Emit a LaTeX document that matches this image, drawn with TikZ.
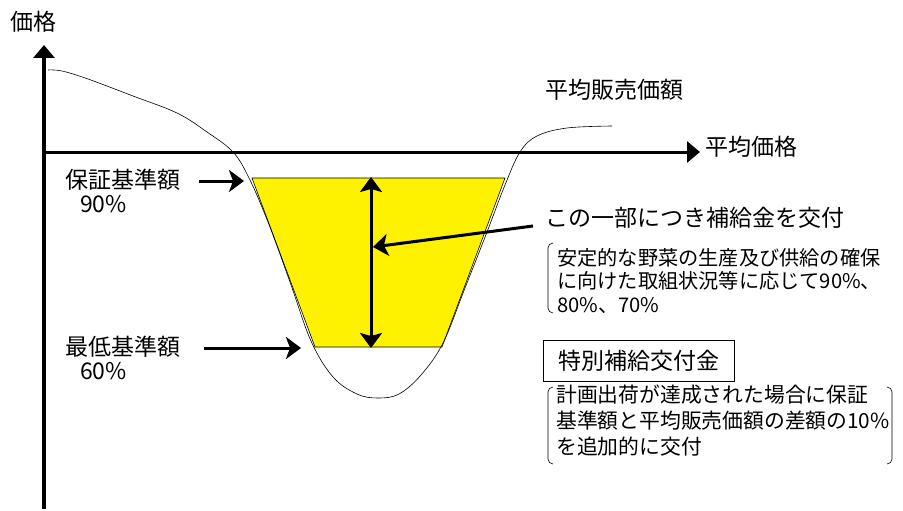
\documentclass[tikz,border=0pt]{standalone}
\usepackage{fontspec}
\setmainfont{Noto Sans CJK JP}
\usetikzlibrary{arrows.meta}
\begin{document}
\begin{tikzpicture}[x=1pt,y=-1pt,
  lbl/.style={font=\fontsize{23}{26}\selectfont, inner sep=0pt, anchor=west},
  note/.style={font=\fontsize{20.5}{24}\selectfont, inner sep=0pt, anchor=north west, align=left},
  thickarrow/.style={line width=3pt, -{Stealth[length=15pt,width=22pt,inset=4pt]}},
  axis/.style={line width=3.5pt, -{Triangle[length=13pt,width=21pt]}},
  brk/.style={line width=0.6pt, rounded corners=5pt}]
\useasboundingbox (0,0) rectangle (903,511);
% axes
\coordinate (origin) at (44,152);
\coordinate (ybot) at (44,509);
\coordinate (ytop) at (44,45);
\coordinate (xend) at (700,152);
\draw[axis] (ybot) -- (ytop);
\draw[axis, line width=3pt] (origin) -- (xend);
\node[lbl, anchor=center] (yl) at (33,22) {価格};
\node[lbl] (xl) at (705,147) {平均価格};
\node[lbl] (cl) at (545,90) {平均販売価額};
% yellow area
\draw[fill=yellow, line width=0.6pt] (252,178) -- (505,178) -- (442,347) -- (315,347) -- cycle;
% curve
\draw[line width=0.6pt] plot[smooth, tension=0.6] coordinates {(48,70) (62,71) (88,79) (133,96) (177,113) (207,132) (233,152) (249,178) (268,222) (290,282) (311,341) (333,377) (357,394) (378,398) (399,394) (421,375) (443,343) (465,288) (487,232) (505,185) (520,152) (537,136) (567,128) (612,126)};
% double arrow
\coordinate (dtop) at (371,177);
\coordinate (dbot) at (371,348);
\draw[line width=3pt, {Stealth[length=15pt,width=22pt,inset=3pt]}-{Stealth[length=15pt,width=22pt,inset=3pt]}] (dtop) -- (dbot);
% labels left
\node[lbl] (hl) at (65,180) {保証基準額};
\node[lbl] (hp) at (80,204) {90\%};
\node[lbl] (ml) at (65,347) {最低基準額};
\node[lbl] (mp) at (80,371) {60\%};
\coordinate (ha) at (244,181);
\coordinate (ma) at (301,348);
\draw[thickarrow] (hl.east) ++(19,1) coordinate (hs) (hs) -- (ha);
\draw[thickarrow] (ml.east) ++(24,1) coordinate (ms) (ms) -- (ma);
% pointer
\node[lbl] (pl) at (545,218) {この一部につき補給金を交付};
\coordinate (pe) at (373,247);
\draw[thickarrow] (pl.west) ++(-12,8) coordinate (ps) (ps) -- (pe);
% note 1
\node[note, font=\fontsize{20.2}{23.5}\selectfont] (n1) at (557,248) {安定的な野菜の生産及び供給の確保\\に向けた取組状況等に応じて90\%、\\80\%、70\%};
\draw[brk] (553,243) -- (548,243) -- (548,313) -- (553,313);
% box
\node[draw, line width=0.6pt, minimum width=191pt, minimum height=41pt, inner sep=0pt, font=\fontsize{23}{26}\selectfont] (sb) at (638.5,360.5) {特別補給交付金};
% note 2
\node[note, font=\fontsize{20.8}{26}\selectfont] (n2) at (556,385) {計画出荷が達成された場合に保証\\基準額と平均販売価額の差額の10\%\\を追加的に交付};
\draw[brk] (553,387) -- (548,387) -- (548,464) -- (553,464);
\draw[brk] (887,387) -- (892,387) -- (892,464) -- (887,464);
\end{tikzpicture}
\end{document}
